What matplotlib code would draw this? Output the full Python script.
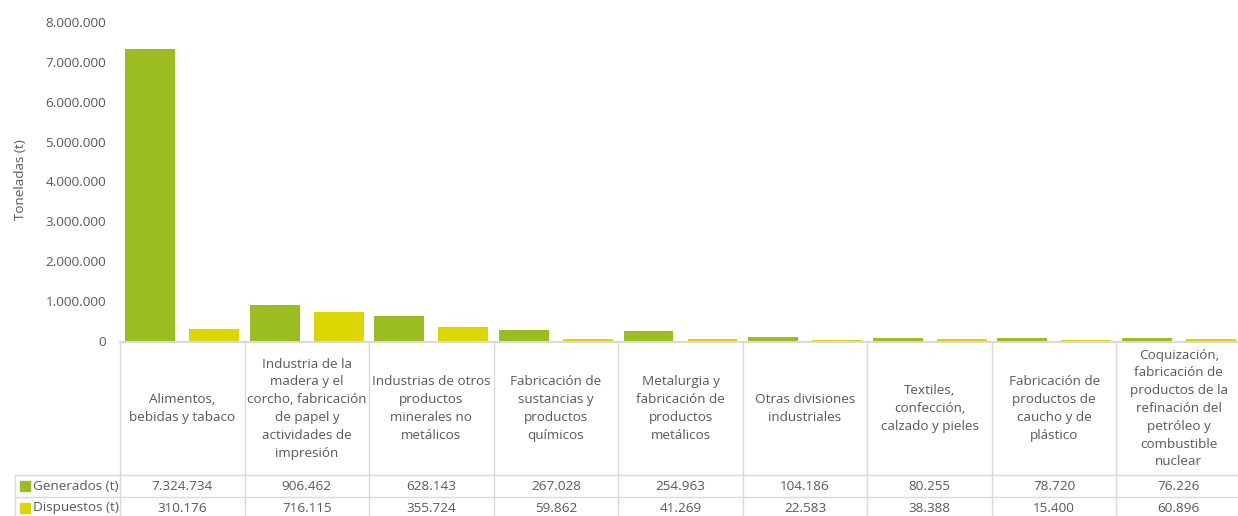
import matplotlib
matplotlib.use('Agg')
import matplotlib.pyplot as plt
import numpy as np
from matplotlib.lines import Line2D
from matplotlib.patches import Rectangle
from matplotlib.ticker import FuncFormatter
import matplotlib.transforms as mtransforms

categorias = [
    "Alimentos,\nbebidas y tabaco",
    "Industria de la\nmadera y el\ncorcho, fabricación\nde papel y\nactividades de\nimpresión",
    "Industrias de otros\nproductos\nminerales no\nmetálicos",
    "Fabricación de\nsustancias y\nproductos\nquímicos",
    "Metalurgia y\nfabricación de\nproductos\nmetálicos",
    "Otras divisiones\nindustriales",
    "Textiles,\nconfección,\ncalzado y pieles",
    "Fabricación de\nproductos de\ncaucho y de\nplástico",
    "Coquización,\nfabricación de\nproductos de la\nrefinación del\npetróleo y\ncombustible\nnuclear",
]
generados = [7324734, 906462, 628143, 267028, 254963, 104186, 80255, 78720, 76226]
dispuestos = [310176, 716115, 355724, 59862, 41269, 22583, 38388, 15400, 60896]
series = ["Generados (t)", "Dispuestos (t)"]

verde = '#9bbd21'
amarillo = '#dbd600'
gris_txt = '#595959'
gris_lin = '#d9d9d9'

plt.rcParams['font.family'] = ['Open Sans', 'DejaVu Sans']
W, H = 1238, 516
fs = 9.7


def miles(v, pos=None):
    return '{:,.0f}'.format(v).replace(',', '.')


fig = plt.figure(figsize=(W / 100, H / 100), dpi=100)
# eje de barras en coordenadas de pixel
x0, x1, ytop, ybase = 120, 1241, 22, 341
ax = fig.add_axes([x0 / W, 1 - ybase / H, (x1 - x0) / W, (ybase - ytop) / H])

n = len(categorias)
x = np.arange(n)
ax.bar(x - 0.257, generados, width=0.40, color=verde, linewidth=0, zorder=3)
ax.bar(x + 0.257, dispuestos, width=0.40, color=amarillo, linewidth=0, zorder=3)

ax.set_xlim(-0.5, n - 0.5)
ax.set_ylim(0, 8000000)
ax.set_yticks(np.arange(0, 8000001, 1000000))
ax.yaxis.set_major_formatter(FuncFormatter(miles))
ax.tick_params(axis='y', length=0, pad=10, labelsize=fs, labelcolor=gris_txt)
ax.set_xticks([])
for s in ax.spines.values():
    s.set_visible(False)
fig.text(21 / W, 1 - 180 / H, 'Toneladas (t)', rotation=90, ha='center', va='center',
         fontsize=fs, color=gris_txt)

# tabla de datos bajo el eje
tr = mtransforms.blended_transform_factory(ax.transData, fig.transFigure)
fy = lambda py: 1 - py / H
y_head, y_r1, y_r2, y_end = 342, 475, 497, 519

def linea(xs, ys, t, lw=1.0):
    ax.add_line(Line2D(xs, ys, transform=t, color=gris_lin, lw=lw, clip_on=False, zorder=1))

bordes = np.arange(n + 1) - 0.5
for b in bordes:
    linea([b, b], [fy(y_head), fy(y_end)], tr)
linea([-0.5, n - 0.5], [fy(y_head), fy(y_head)], tr, lw=1.5)
for yy in (y_r1, y_r2, y_end):
    linea([15 / W, x1 / W], [fy(yy), fy(yy)], fig.transFigure)
linea([15 / W, 15 / W], [fy(y_r1), fy(y_end)], fig.transFigure)

for i, cat in enumerate(categorias):
    ax.text(i, fy((y_head + y_r1) / 2), cat, transform=tr, ha='center', va='center',
            fontsize=fs, color=gris_txt, linespacing=1.48, clip_on=False)
    ax.text(i, fy((y_r1 + y_r2) / 2), miles(generados[i]), transform=tr, ha='center',
            va='center', fontsize=fs, color=gris_txt, clip_on=False)
    ax.text(i, fy((y_r2 + y_end) / 2), miles(dispuestos[i]), transform=tr, ha='center',
            va='center', fontsize=fs, color=gris_txt, clip_on=False)

for k, (nombre, col) in enumerate(zip(series, [verde, amarillo])):
    yc = (y_r1 + y_r2) / 2 if k == 0 else (y_r2 + y_end) / 2
    fig.add_artist(Rectangle((20 / W, fy(yc + 5)), 10 / W, 10 / H, color=col,
                             transform=fig.transFigure))
    fig.text(33 / W, fy(yc), nombre, ha='left', va='center', fontsize=fs, color=gris_txt)

fig.savefig('out.png', dpi=100)
